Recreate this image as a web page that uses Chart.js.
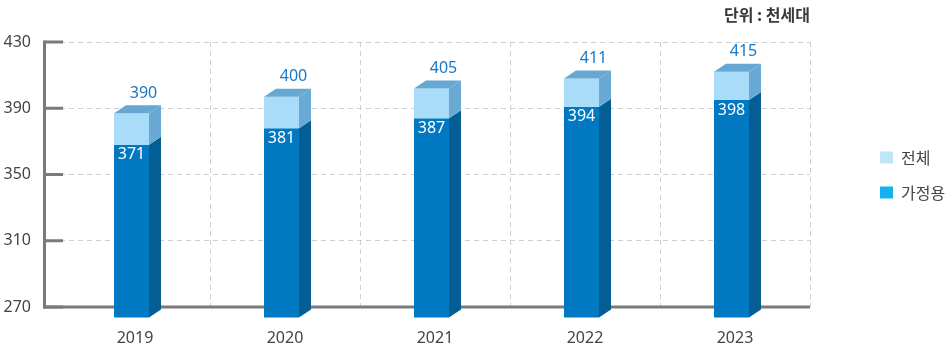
<!DOCTYPE html>
<html><head><meta charset="utf-8">
<script src="https://cdn.jsdelivr.net/npm/chart.js@4.4.1/dist/chart.umd.min.js"></script>
<style>html,body{margin:0;padding:0;background:#fff}</style>
</head><body>
<canvas id="c" width="949" height="351"></canvas>
<script>
// ---- data ----
const years = ['2019', '2020', '2021', '2022', '2023'];
const household = [371, 381, 387, 394, 398];   // 가정용
const total = [390, 400, 405, 411, 415];       // 전체
const yTicks = [270, 310, 350, 390, 430];
const seriesNames = ['가정용', '전체'];
const unitText = '단위 : 천세대';

// ---- style ----
const FONT = "'Noto Sans','Noto Sans CJK KR',sans-serif";
const KFONT = "'Noto Sans CJK KR','Noto Sans',sans-serif";
const C = {
  darkFront: '#0079c2', darkSide: '#045d93',
  lightFront: '#a8dcf8', lightSide: '#69aad5', top: '#66a8d3',
  legendTotal: '#bfe6f7', legendHouse: '#12b2ee',
  axis: '#7a7a7a', grid: '#cfcfcf', text: '#444', valueText: '#1878c3'
};
const G = { depthX: 12, depthY: 8, drop: 5, bottomExt: 10.5, frontShift: -3.5, axisGap: 15.5 };
const LEGEND = { x: 880, y: 149.5, width: 139 };

const axisPlugin = {
  id: 'axisPlugin',
  beforeDatasetsDraw(chart) {
    const { ctx, chartArea: a, scales: { y } } = chart;
    const ax = a.left - G.axisGap;
    const yTop = y.getPixelForValue(y.max), yBot = y.getPixelForValue(y.min);
    ctx.save();
    ctx.strokeStyle = C.axis; ctx.lineWidth = 3; ctx.lineCap = 'butt';
    ctx.beginPath(); ctx.moveTo(ax, yTop - 1.5); ctx.lineTo(ax, yBot + 1.5); ctx.stroke();
    ctx.beginPath(); ctx.moveTo(ax - 1.5, yBot); ctx.lineTo(a.right, yBot); ctx.stroke();
    y.ticks.forEach(t => {
      const py = y.getPixelForValue(t.value);
      ctx.beginPath(); ctx.moveTo(ax, py); ctx.lineTo(a.left + 3, py); ctx.stroke();
    });
    ctx.restore();
  }
};

const barsPlugin = {
  id: 'bars3d',
  afterDatasetsDraw(chart) {
    const { ctx, scales: { y } } = chart;
    const meta = chart.getDatasetMeta(0);
    const dx = G.depthX, dy = G.depthY;
    ctx.save();
    meta.data.forEach((el, i) => {
      const w = el.width;
      const xL = el.x - w / 2 + G.frontShift, xR = xL + w;
      const yBase = y.getPixelForValue(y.min) + G.bottomExt;
      const yMid = y.getPixelForValue(household[i]) + G.drop;
      const yTop = y.getPixelForValue(total[i]) + G.drop;
      const poly = (pts, col) => { ctx.fillStyle = col; ctx.beginPath(); pts.forEach((p, k) => k ? ctx.lineTo(p[0], p[1]) : ctx.moveTo(p[0], p[1])); ctx.closePath(); ctx.fill(); };
      // dark part
      poly([[xL, yMid], [xR, yMid], [xR, yBase], [xL, yBase]], C.darkFront);
      poly([[xR, yMid], [xR + dx, yMid - dy], [xR + dx, yBase - dy], [xR, yBase]], C.darkSide);
      // light part
      poly([[xL, yTop], [xR, yTop], [xR, yMid], [xL, yMid]], C.lightFront);
      poly([[xR, yTop], [xR + dx, yTop - dy], [xR + dx, yMid - dy], [xR, yMid]], C.lightSide);
      // top face
      poly([[xL, yTop], [xL + dx, yTop - dy], [xR + dx, yTop - dy], [xR, yTop]], C.top);
      // labels
      ctx.font = '16px ' + FONT; ctx.textAlign = 'center'; ctx.textBaseline = 'middle';
      ctx.fillStyle = '#ffffff';
      ctx.fillText(String(household[i]), xL + w / 2, yMid + 10);
      ctx.fillStyle = C.valueText;
      ctx.fillText(String(total[i]), xL + w / 2 + dx, yTop - 20);
    });
    ctx.restore();
  }
};

const legendPlace = {
  id: 'legendPlace',
  beforeLayout(chart) {
    const lg = chart.legend;
    if (lg && !lg.__patched) {
      const orig = lg.fit;
      lg.fit = function () { orig.call(this); this.width = LEGEND.width; };
      lg.__patched = true;
    }
  },
  afterLayout(chart) {
    const lg = chart.legend; if (!lg) return;
    const p = lg.options.labels.padding;
    const w = lg.width;
    lg.left = LEGEND.x - p; lg.right = lg.left + w;
    lg.top = LEGEND.y - p; lg.bottom = lg.top + 200;
  }
};

new Chart(document.getElementById('c'), {
  type: 'bar',
  data: {
    labels: years,
    datasets: [
      { label: seriesNames[0], data: household, backgroundColor: 'rgba(0,0,0,0)', barThickness: 35, grouped: false },
      { label: seriesNames[1], data: total, backgroundColor: 'rgba(0,0,0,0)', barThickness: 35, grouped: false }
    ]
  },
  options: {
    responsive: false, animation: false,
    layout: { padding: { left: 3, right: 0, top: 0, bottom: 0 } },
    scales: {
      x: {
        offset: true,
        grid: { offset: true, drawTicks: false, lineWidth: 1, color: c => c.index === 0 ? 'rgba(0,0,0,0)' : C.grid },
        border: { display: false, dash: [5, 4] },
        ticks: { padding: 22, color: C.text, font: { family: FONT, size: 16 } },
        afterFit: s => { s.height = 44; }
      },
      y: {
        min: yTicks[0], max: yTicks[yTicks.length - 1],
        afterBuildTicks: s => { s.ticks = yTicks.map(v => ({ value: v })); },
        grid: { drawTicks: false, color: C.grid, lineWidth: 1 },
        border: { display: false, dash: [5, 4] },
        ticks: { padding: 29, color: C.text, font: { family: FONT, size: 16 } },
        afterFit: s => { s.width = 57; }
      }
    },
    plugins: {
      title: { display: true, text: unitText, align: 'end', fullSize: false, color: '#3a3a3a',
        font: { family: KFONT, size: 16, weight: 'bold', lineHeight: 1.125 }, padding: { top: 6, bottom: 18 } },
      legend: {
        position: 'right', align: 'start',
        labels: {
          boxWidth: 13, boxHeight: 12, padding: 19, color: C.text, font: { family: KFONT, size: 16 },
          generateLabels: () => [
            { text: seriesNames[1], fillStyle: C.legendTotal, strokeStyle: 'rgba(0,0,0,0)', lineWidth: 0, datasetIndex: 1, fontColor: C.text },
            { text: seriesNames[0], fillStyle: C.legendHouse, strokeStyle: 'rgba(0,0,0,0)', lineWidth: 0, datasetIndex: 0, fontColor: C.text }
          ]
        }
      },
      tooltip: { enabled: false }
    }
  },
  plugins: [axisPlugin, barsPlugin, legendPlace]
});
</script>
</body></html>
